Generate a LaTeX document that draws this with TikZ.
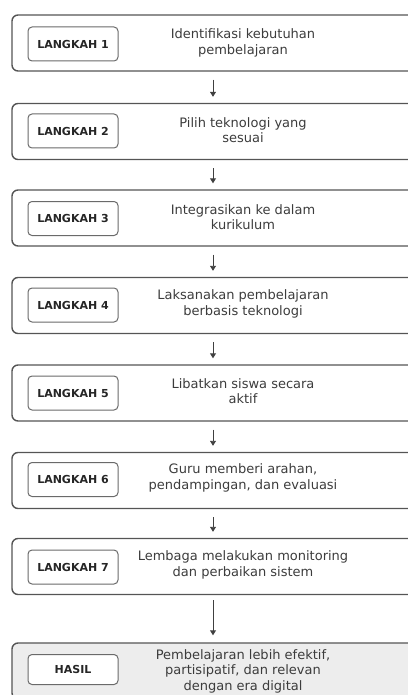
\documentclass[tikz,border=0pt]{standalone}
\usepackage{fontspec}
\setmainfont{DejaVu Sans}
\usetikzlibrary{arrows.meta}
\definecolor{outerline}{HTML}{555555}
\definecolor{innerline}{HTML}{6A6A6A}
\definecolor{txt}{HTML}{3C3C3C}
\definecolor{hasilfill}{HTML}{EDEDED}
\tikzset{
  outerbox/.style={draw=outerline, line width=1.4pt, rounded corners=6pt, minimum width=402pt, minimum height=56pt, inner sep=0pt},
  labelbox/.style={draw=innerline, line width=1pt, fill=white, rounded corners=4pt, minimum width=90pt, minimum height=34pt, inner sep=0pt, font=\fontsize{11}{13}\selectfont\bfseries, text=black!85},
  desc/.style={align=center, font=\fontsize{13}{15.5}\selectfont, text=txt, inner sep=0pt},
  flow/.style={draw=black!75, line width=0.9pt, -{Triangle[width=6pt,length=5pt]}}
}
\begin{document}
\begin{tikzpicture}[x=1pt,y=-1pt]
\useasboundingbox (0,0) rectangle (407,695);
% step boxes
\node[outerbox] (s1) at (213,43) {};
\node[outerbox] (s2) at (213,131.5) {};
\node[outerbox] (s3) at (213,218) {};
\node[outerbox] (s4) at (213,305.5) {};
\node[outerbox] (s5) at (213,393) {};
\node[outerbox] (s6) at (213,480.5) {};
\node[outerbox] (s7) at (213,566.5) {};
\node[outerbox, fill=hasilfill] (h) at (213,671) {};
% labels
\node[labelbox] (l1) at (73,44) {LANGKAH 1};
\node[labelbox] (l2) at (73,131) {LANGKAH 2};
\node[labelbox] (l3) at (73,218.5) {LANGKAH 3};
\node[labelbox] (l4) at (73,305) {LANGKAH 4};
\node[labelbox] (l5) at (73,393) {LANGKAH 5};
\node[labelbox] (l6) at (73,479.5) {LANGKAH 6};
\node[labelbox] (l7) at (73,567) {LANGKAH 7};
\node[labelbox, minimum height=30pt] (lh) at (73,669.5) {HASIL};
% descriptions
\node[desc] (d1) at (243,43) {Identifikasi kebutuhan\\pembelajaran};
\node[desc] (d2) at (243,130) {Pilih teknologi yang\\sesuai};
\node[desc] (d3) at (243,217) {Integrasikan ke dalam\\kurikulum};
\node[desc] (d4) at (243,304) {Laksanakan pembelajaran\\berbasis teknologi};
\node[desc] (d5) at (243,391) {Libatkan siswa secara\\aktif};
\node[desc] (d6) at (243,478) {Guru memberi arahan,\\pendampingan, dan evaluasi};
\node[desc] (d7) at (243,565) {Lembaga melakukan monitoring\\dan perbaikan sistem};
\node[desc] (dh) at (243,671) {Pembelajaran lebih efektif,\\partisipatif, dan relevan\\dengan era digital};
% arrows
\draw[flow, shorten <=8pt, shorten >=6pt] (s1.south) -- (s2.north);
\draw[flow, shorten <=8pt, shorten >=6pt] (s2.south) -- (s3.north);
\draw[flow, shorten <=8pt, shorten >=6pt] (s3.south) -- (s4.north);
\draw[flow, shorten <=8pt, shorten >=6pt] (s4.south) -- (s5.north);
\draw[flow, shorten <=8pt, shorten >=6pt] (s5.south) -- (s6.north);
\draw[flow, shorten <=8pt, shorten >=6pt] (s6.south) -- (s7.north);
\draw[flow, shorten <=5pt, shorten >=7pt] (s7.south) -- (h.north);
\end{tikzpicture}
\end{document}
